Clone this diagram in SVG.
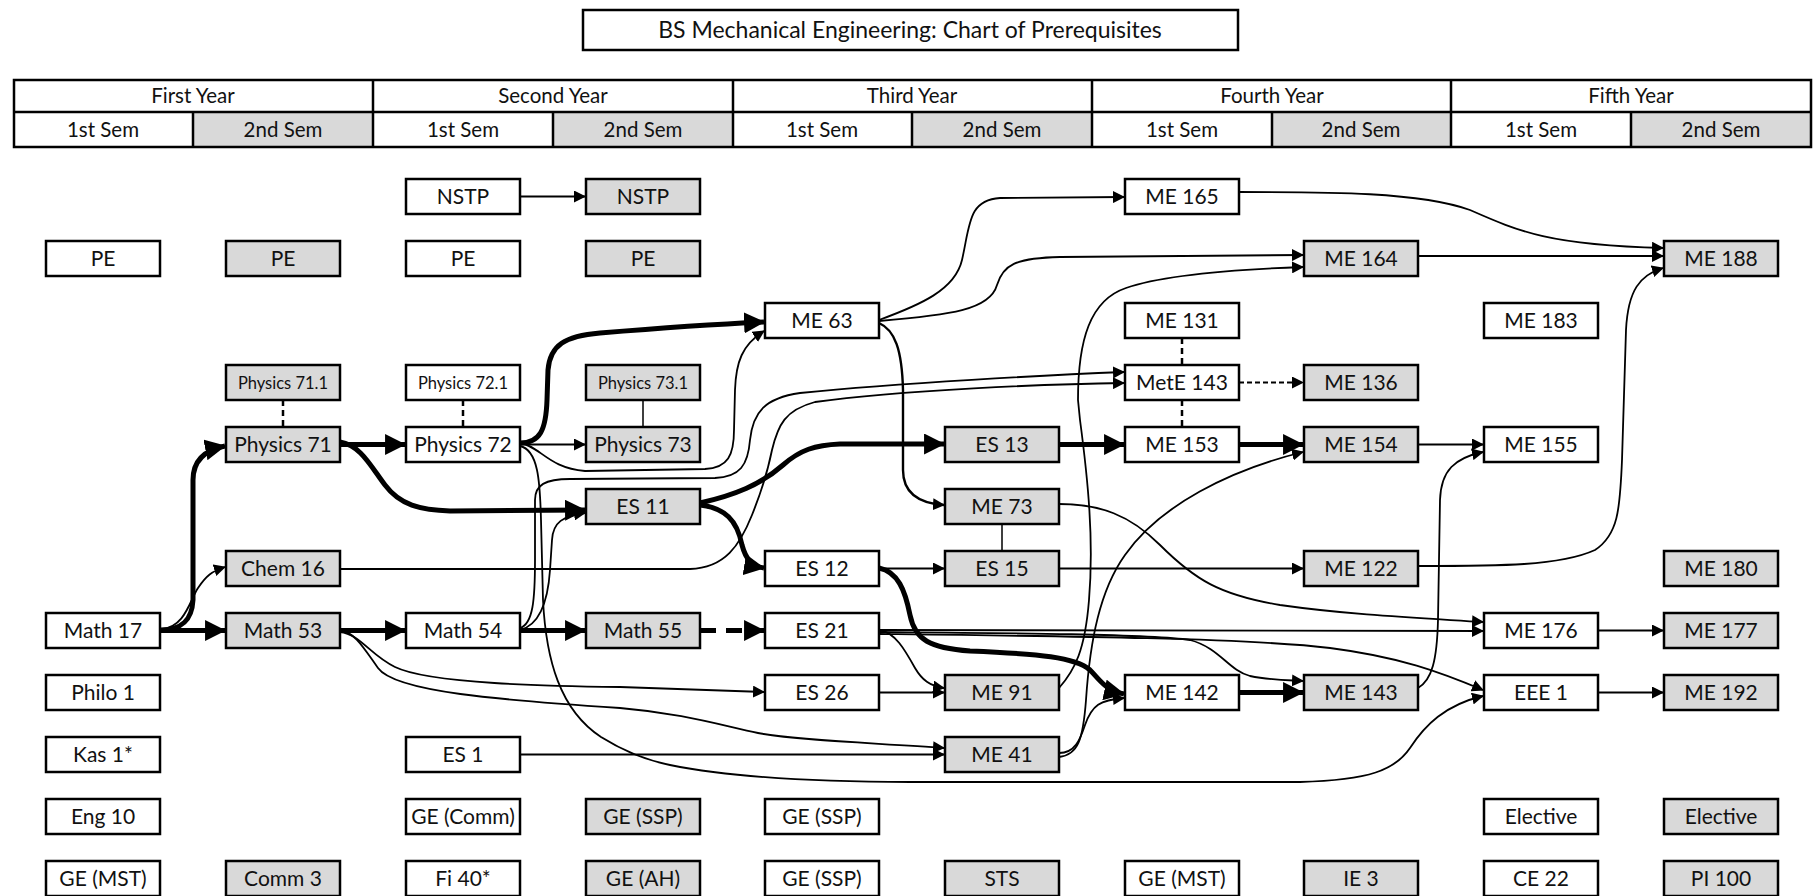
<svg xmlns="http://www.w3.org/2000/svg" width="1818" height="896" viewBox="0 0 1818 896">
<style>
text{font-family:Lato,"Liberation Sans",sans-serif;font-size:21px;text-anchor:middle;fill:#111}
.box{stroke:#000;stroke-width:2.5}
.w{fill:#fff}.g{fill:#d9d9d9}
.sm{font-size:16.5px}
.cn{font-size:21px}
.hdt{font-size:20.5px}
.c{fill:none;stroke:#000;stroke-width:1.8}
.t{fill:none;stroke:#000;stroke-width:5}
.hd{fill:none;stroke:#000;stroke-width:2.5}
</style>
<defs>
<marker id="ah" viewBox="0 0 12 12" refX="11" refY="6" markerWidth="12" markerHeight="12" markerUnits="userSpaceOnUse" orient="auto"><path d="M0,0 L12,6 L0,12 z" fill="#000"/></marker>
<marker id="aT" viewBox="0 0 20 20" refX="19" refY="10" markerWidth="21" markerHeight="21" markerUnits="userSpaceOnUse" orient="auto"><path d="M0,0 L20,10 L0,20 z" fill="#000"/></marker>
</defs>
<rect width="1818" height="896" fill="#fff"/>
<g id="title"><rect x="583" y="10" width="655" height="40" class="box w"/><text x="910" y="38" style="font-size:23px">BS Mechanical Engineering: Chart of Prerequisites</text></g>
<g id="header">
<rect x="14" y="80" width="1797" height="67" class="w"/>
<rect x="193" y="112" width="180" height="35" class="g"/>
<rect x="553" y="112" width="180" height="35" class="g"/>
<rect x="912" y="112" width="180" height="35" class="g"/>
<rect x="1272" y="112" width="180" height="35" class="g"/>
<rect x="1631" y="112" width="180" height="35" class="g"/>
<path class="hd" d="M14,80 H1811 V147 H14 Z M14,112 H1811 M373,80 V147 M733,80 V147 M1092,80 V147 M1451,80 V147 M193,112 V147 M553,112 V147 M912,112 V147 M1272,112 V147 M1631,112 V147"/>
<text class="hdt" x="193" y="103">First Year</text><text class="hdt" x="553" y="103">Second Year</text><text class="hdt" x="912" y="103">Third Year</text><text class="hdt" x="1272" y="103">Fourth Year</text><text class="hdt" x="1631" y="103">Fifth Year</text>
<text class="hdt" x="103" y="137">1st Sem</text><text class="hdt" x="283" y="137">2nd Sem</text><text class="hdt" x="463" y="137">1st Sem</text><text class="hdt" x="643" y="137">2nd Sem</text><text class="hdt" x="822" y="137">1st Sem</text><text class="hdt" x="1002" y="137">2nd Sem</text><text class="hdt" x="1182" y="137">1st Sem</text><text class="hdt" x="1361" y="137">2nd Sem</text><text class="hdt" x="1541" y="137">1st Sem</text><text class="hdt" x="1721" y="137">2nd Sem</text>
</g>
<g id="connectors">
<path class="c" d="M520,196.5 L585,196.5" marker-end="url(#ah)"/>
<path class="c" d="M520,444.5 L585,444.5" marker-end="url(#ah)"/>
<path class="c" d="M162,629 C185,627 190,600 198,588 C206,576 212,571 225,567" marker-end="url(#ah)"/>
<path class="c" d="M520,443 C540,446 548,468 585,471 L705,469 C728,468 734,455 734,430 L735,390 C736,362 742,345 764,331" marker-end="url(#ah)"/>
<path class="c" d="M520,628 C533,624 535,600 535,560 L535,500 C535,485 545,479 570,479 L715,478 C740,477 748,465 750,440 C753,412 765,398 800,393 C900,383 1050,375 1124,372" marker-end="url(#ah)"/>
<path class="c" d="M340,569 L690,569 C725,568 740,545 752,515 C762,490 768,470 772,450 C778,425 785,410 815,402 C900,390 1050,384 1124,383" marker-end="url(#ah)"/>
<path class="c" d="M520,630 C540,625 548,600 550,570 L552,540 C553,522 563,516 585,513" marker-end="url(#ah)"/>
<path class="c" d="M520,446 C538,450 540,480 541,520 L543,600 C546,660 560,710 601,737 C625,752 645,760 670,765 C720,775 800,782 910,782 L1300,782 C1370,780 1395,770 1410,748 C1425,725 1445,705 1483,696" marker-end="url(#ah)"/>
<path class="c" d="M340,632 C360,634 370,655 395,667 C430,684 550,686 620,687 L764,692" marker-end="url(#ah)"/>
<path class="c" d="M340,630 C355,632 365,650 378,668 C395,692 500,700 620,708 C680,713 720,725 758,733 C800,741 880,743 944,748" marker-end="url(#ah)"/>
<path class="c" d="M520,754.5 L944,754.5" marker-end="url(#ah)"/>
<path class="c" d="M879,630 C895,632 905,650 915,668 C922,680 930,686 944,688" marker-end="url(#ah)"/>
<path class="c" d="M879,692.5 L944,692.5" marker-end="url(#ah)"/>
<path class="c" d="M879,568.5 L944,568.5" marker-end="url(#ah)"/>
<path class="c" d="M1059,568.5 L1303,568.5" marker-end="url(#ah)"/>
<path class="c" d="M879,320 C920,305 955,290 962,260 C970,225 968,200 1000,198 L1124,197" marker-end="url(#ah)"/>
<path class="c" d="M879,321 C950,315 990,310 997,285 C1003,265 1015,258 1060,257 L1303,255" marker-end="url(#ah)"/>
<path class="c" style="stroke-width:2.4" d="M879,323 C895,330 902,350 903,390 L903,470 C903,490 915,503 944,505" marker-end="url(#ah)"/>
<path class="c" d="M1059,688 C1075,670 1085,650 1089,600 C1094,540 1088,480 1080,420 L1078,400 C1078,340 1090,300 1126,288 C1160,276 1220,270 1303,267" marker-end="url(#ah)"/>
<path class="c" d="M1059,504 C1100,504 1130,515 1160,545 C1195,580 1220,595 1280,605 C1350,615 1420,618 1483,622" marker-end="url(#ah)"/>
<path class="c" d="M879,630 L1483,631" marker-end="url(#ah)"/>
<path class="c" d="M879,632 C1000,633 1150,634 1190,640 C1220,648 1228,670 1250,676 C1270,680 1285,680 1303,681" marker-end="url(#ah)"/>
<path class="c" d="M879,634 C1050,636 1250,638 1330,648 C1400,657 1440,672 1483,690" marker-end="url(#ah)"/>
<path class="c" d="M1059,753 C1075,753 1080,740 1085,725 C1092,705 1100,700 1124,698" marker-end="url(#ah)"/>
<path class="c" d="M1059,757 C1078,755 1083,740 1086,700 C1090,640 1100,590 1125,555 C1160,505 1230,470 1303,452" marker-end="url(#ah)"/>
<path class="c" d="M1418,444.5 L1483,444.5" marker-end="url(#ah)"/>
<path class="c" d="M1418,688 C1432,680 1437,660 1438,620 L1440,500 C1441,470 1455,458 1483,452" marker-end="url(#ah)"/>
<path class="c" d="M1418,256 L1663,256" marker-end="url(#ah)"/>
<path class="c" d="M1239,192 C1330,192 1420,192 1470,210 C1520,232 1550,245 1663,248" marker-end="url(#ah)"/>
<path class="c" d="M1418,566 C1500,566 1560,566 1595,550 C1618,535 1620,510 1622,460 L1626,330 C1628,290 1640,275 1663,268" marker-end="url(#ah)"/>
<path class="c" d="M1598,630.5 L1663,630.5" marker-end="url(#ah)"/>
<path class="c" d="M1598,692.5 L1663,692.5" marker-end="url(#ah)"/>
<path class="c" style="stroke-dasharray:5 3" d="M1239,382.5 L1303,382.5" marker-end="url(#ah)"/>
<path class="t" d="M160,630.5 L225,630.5" marker-end="url(#aT)"/>
<path class="t" d="M160,630 C182,630 192,620 193,600 L193,480 C193,460 205,450 225,446" marker-end="url(#aT)"/>
<path class="t" d="M340,444.5 L405,444.5" marker-end="url(#aT)"/>
<path class="t" d="M340,442 C360,445 370,465 385,485 C400,505 420,510 450,511 L585,510" marker-end="url(#aT)"/>
<path class="t" d="M520,443 C540,443 546,430 547,400 L548,370 C550,345 565,336 600,333 C660,328 720,324 764,322" marker-end="url(#aT)"/>
<path class="t" d="M340,630.5 L405,630.5" marker-end="url(#aT)"/>
<path class="t" d="M520,630.5 L585,630.5" marker-end="url(#aT)"/>
<path class="t" style="stroke-dasharray:16 10" d="M700,630.5 L764,630.5" marker-end="url(#aT)"/>
<path class="t" d="M700,503 C735,495 760,485 783,465 C800,450 815,445 840,444 L944,444" marker-end="url(#aT)"/>
<path class="t" d="M700,505 C725,508 737,520 742,545 C746,560 752,566 764,568" marker-end="url(#aT)"/>
<path class="t" d="M879,568 C898,572 905,590 910,615 C915,640 930,648 970,651 C1040,654 1075,657 1090,670 C1100,680 1105,690 1124,694" marker-end="url(#aT)"/>
<path class="t" d="M1059,444.5 L1124,444.5" marker-end="url(#aT)"/>
<path class="t" d="M1239,444.5 L1303,444.5" marker-end="url(#aT)"/>
<path class="t" d="M1239,692.5 L1303,692.5" marker-end="url(#aT)"/>
<path fill="none" stroke="#000" stroke-width="2.5" stroke-dasharray="6 4" d="M283,400 V427 M463,400 V427 M1182,338 V365 M1182,400 V427"/>
<path fill="none" stroke="#000" stroke-width="1.5" d="M643,400 V427 M1002,524 V551"/>
</g>
<g id="n-pe1"><rect x="46" y="241" width="114" height="35" class="box w"/><text x="103" y="266">PE</text></g>
<g id="n-math17"><rect x="46" y="613" width="114" height="35" class="box w"/><text x="103" y="638">Math 17</text></g>
<g id="n-philo1"><rect x="46" y="675" width="114" height="35" class="box w"/><text x="103" y="700">Philo 1</text></g>
<g id="n-kas1"><rect x="46" y="737" width="114" height="35" class="box w"/><text x="103" y="762" class="cn">Kas 1*</text></g>
<g id="n-eng10"><rect x="46" y="799" width="114" height="35" class="box w"/><text x="103" y="824" class="cn">Eng 10</text></g>
<g id="n-gemst1"><rect x="46" y="861" width="114" height="35" class="box w"/><text x="103" y="886" class="cn">GE (MST)</text></g>
<g id="n-pe2"><rect x="226" y="241" width="114" height="35" class="box g"/><text x="283" y="266">PE</text></g>
<g id="n-phy711"><rect x="226" y="365" width="114" height="35" class="box g"/><text x="283" y="388.5" class="sm">Physics 71.1</text></g>
<g id="n-phy71"><rect x="226" y="427" width="114" height="35" class="box g"/><text x="283" y="452">Physics 71</text></g>
<g id="n-chem16"><rect x="226" y="551" width="114" height="35" class="box g"/><text x="283" y="576">Chem 16</text></g>
<g id="n-math53"><rect x="226" y="613" width="114" height="35" class="box g"/><text x="283" y="638">Math 53</text></g>
<g id="n-comm3"><rect x="226" y="861" width="114" height="35" class="box g"/><text x="283" y="886" class="cn">Comm 3</text></g>
<g id="n-nstp1"><rect x="406" y="179" width="114" height="35" class="box w"/><text x="463" y="204">NSTP</text></g>
<g id="n-pe3"><rect x="406" y="241" width="114" height="35" class="box w"/><text x="463" y="266">PE</text></g>
<g id="n-phy721"><rect x="406" y="365" width="114" height="35" class="box w"/><text x="463" y="388.5" class="sm">Physics 72.1</text></g>
<g id="n-phy72"><rect x="406" y="427" width="114" height="35" class="box w"/><text x="463" y="452">Physics 72</text></g>
<g id="n-math54"><rect x="406" y="613" width="114" height="35" class="box w"/><text x="463" y="638">Math 54</text></g>
<g id="n-es1"><rect x="406" y="737" width="114" height="35" class="box w"/><text x="463" y="762" class="cn">ES 1</text></g>
<g id="n-gecomm"><rect x="406" y="799" width="114" height="35" class="box w"/><text x="463" y="824" class="cn">GE (Comm)</text></g>
<g id="n-fi40"><rect x="406" y="861" width="114" height="35" class="box w"/><text x="463" y="886" class="cn">Fi 40*</text></g>
<g id="n-nstp2"><rect x="586" y="179" width="114" height="35" class="box g"/><text x="643" y="204">NSTP</text></g>
<g id="n-pe4"><rect x="586" y="241" width="114" height="35" class="box g"/><text x="643" y="266">PE</text></g>
<g id="n-phy731"><rect x="586" y="365" width="114" height="35" class="box g"/><text x="643" y="388.5" class="sm">Physics 73.1</text></g>
<g id="n-phy73"><rect x="586" y="427" width="114" height="35" class="box g"/><text x="643" y="452">Physics 73</text></g>
<g id="n-es11"><rect x="586" y="489" width="114" height="35" class="box g"/><text x="643" y="514">ES 11</text></g>
<g id="n-math55"><rect x="586" y="613" width="114" height="35" class="box g"/><text x="643" y="638">Math 55</text></g>
<g id="n-gessp1"><rect x="586" y="799" width="114" height="35" class="box g"/><text x="643" y="824" class="cn">GE (SSP)</text></g>
<g id="n-geah"><rect x="586" y="861" width="114" height="35" class="box g"/><text x="643" y="886" class="cn">GE (AH)</text></g>
<g id="n-me63"><rect x="765" y="303" width="114" height="35" class="box w"/><text x="822" y="328">ME 63</text></g>
<g id="n-es12"><rect x="765" y="551" width="114" height="35" class="box w"/><text x="822" y="576">ES 12</text></g>
<g id="n-es21"><rect x="765" y="613" width="114" height="35" class="box w"/><text x="822" y="638">ES 21</text></g>
<g id="n-es26"><rect x="765" y="675" width="114" height="35" class="box w"/><text x="822" y="700">ES 26</text></g>
<g id="n-gessp2"><rect x="765" y="799" width="114" height="35" class="box w"/><text x="822" y="824" class="cn">GE (SSP)</text></g>
<g id="n-gessp3"><rect x="765" y="861" width="114" height="35" class="box w"/><text x="822" y="886" class="cn">GE (SSP)</text></g>
<g id="n-es13"><rect x="945" y="427" width="114" height="35" class="box g"/><text x="1002" y="452">ES 13</text></g>
<g id="n-me73"><rect x="945" y="489" width="114" height="35" class="box g"/><text x="1002" y="514">ME 73</text></g>
<g id="n-es15"><rect x="945" y="551" width="114" height="35" class="box g"/><text x="1002" y="576">ES 15</text></g>
<g id="n-me91"><rect x="945" y="675" width="114" height="35" class="box g"/><text x="1002" y="700">ME 91</text></g>
<g id="n-me41"><rect x="945" y="737" width="114" height="35" class="box g"/><text x="1002" y="762" class="cn">ME 41</text></g>
<g id="n-sts"><rect x="945" y="861" width="114" height="35" class="box g"/><text x="1002" y="886" class="cn">STS</text></g>
<g id="n-me165"><rect x="1125" y="179" width="114" height="35" class="box w"/><text x="1182" y="204">ME 165</text></g>
<g id="n-me131"><rect x="1125" y="303" width="114" height="35" class="box w"/><text x="1182" y="328">ME 131</text></g>
<g id="n-mete143"><rect x="1125" y="365" width="114" height="35" class="box w"/><text x="1182" y="390">MetE 143</text></g>
<g id="n-me153"><rect x="1125" y="427" width="114" height="35" class="box w"/><text x="1182" y="452">ME 153</text></g>
<g id="n-me142"><rect x="1125" y="675" width="114" height="35" class="box w"/><text x="1182" y="700">ME 142</text></g>
<g id="n-gemst2"><rect x="1125" y="861" width="114" height="35" class="box w"/><text x="1182" y="886" class="cn">GE (MST)</text></g>
<g id="n-me164"><rect x="1304" y="241" width="114" height="35" class="box g"/><text x="1361" y="266">ME 164</text></g>
<g id="n-me136"><rect x="1304" y="365" width="114" height="35" class="box g"/><text x="1361" y="390">ME 136</text></g>
<g id="n-me154"><rect x="1304" y="427" width="114" height="35" class="box g"/><text x="1361" y="452">ME 154</text></g>
<g id="n-me122"><rect x="1304" y="551" width="114" height="35" class="box g"/><text x="1361" y="576">ME 122</text></g>
<g id="n-me143"><rect x="1304" y="675" width="114" height="35" class="box g"/><text x="1361" y="700">ME 143</text></g>
<g id="n-ie3"><rect x="1304" y="861" width="114" height="35" class="box g"/><text x="1361" y="886" class="cn">IE 3</text></g>
<g id="n-me183"><rect x="1484" y="303" width="114" height="35" class="box w"/><text x="1541" y="328">ME 183</text></g>
<g id="n-me155"><rect x="1484" y="427" width="114" height="35" class="box w"/><text x="1541" y="452">ME 155</text></g>
<g id="n-me176"><rect x="1484" y="613" width="114" height="35" class="box w"/><text x="1541" y="638">ME 176</text></g>
<g id="n-eee1"><rect x="1484" y="675" width="114" height="35" class="box w"/><text x="1541" y="700">EEE 1</text></g>
<g id="n-elec1"><rect x="1484" y="799" width="114" height="35" class="box w"/><text x="1541" y="824" class="cn">Elective</text></g>
<g id="n-ce22"><rect x="1484" y="861" width="114" height="35" class="box w"/><text x="1541" y="886" class="cn">CE 22</text></g>
<g id="n-me188"><rect x="1664" y="241" width="114" height="35" class="box g"/><text x="1721" y="266">ME 188</text></g>
<g id="n-me180"><rect x="1664" y="551" width="114" height="35" class="box g"/><text x="1721" y="576">ME 180</text></g>
<g id="n-me177"><rect x="1664" y="613" width="114" height="35" class="box g"/><text x="1721" y="638">ME 177</text></g>
<g id="n-me192"><rect x="1664" y="675" width="114" height="35" class="box g"/><text x="1721" y="700">ME 192</text></g>
<g id="n-elec2"><rect x="1664" y="799" width="114" height="35" class="box g"/><text x="1721" y="824" class="cn">Elective</text></g>
<g id="n-pi100"><rect x="1664" y="861" width="114" height="35" class="box g"/><text x="1721" y="886" class="cn">PI 100</text></g>
</svg>
